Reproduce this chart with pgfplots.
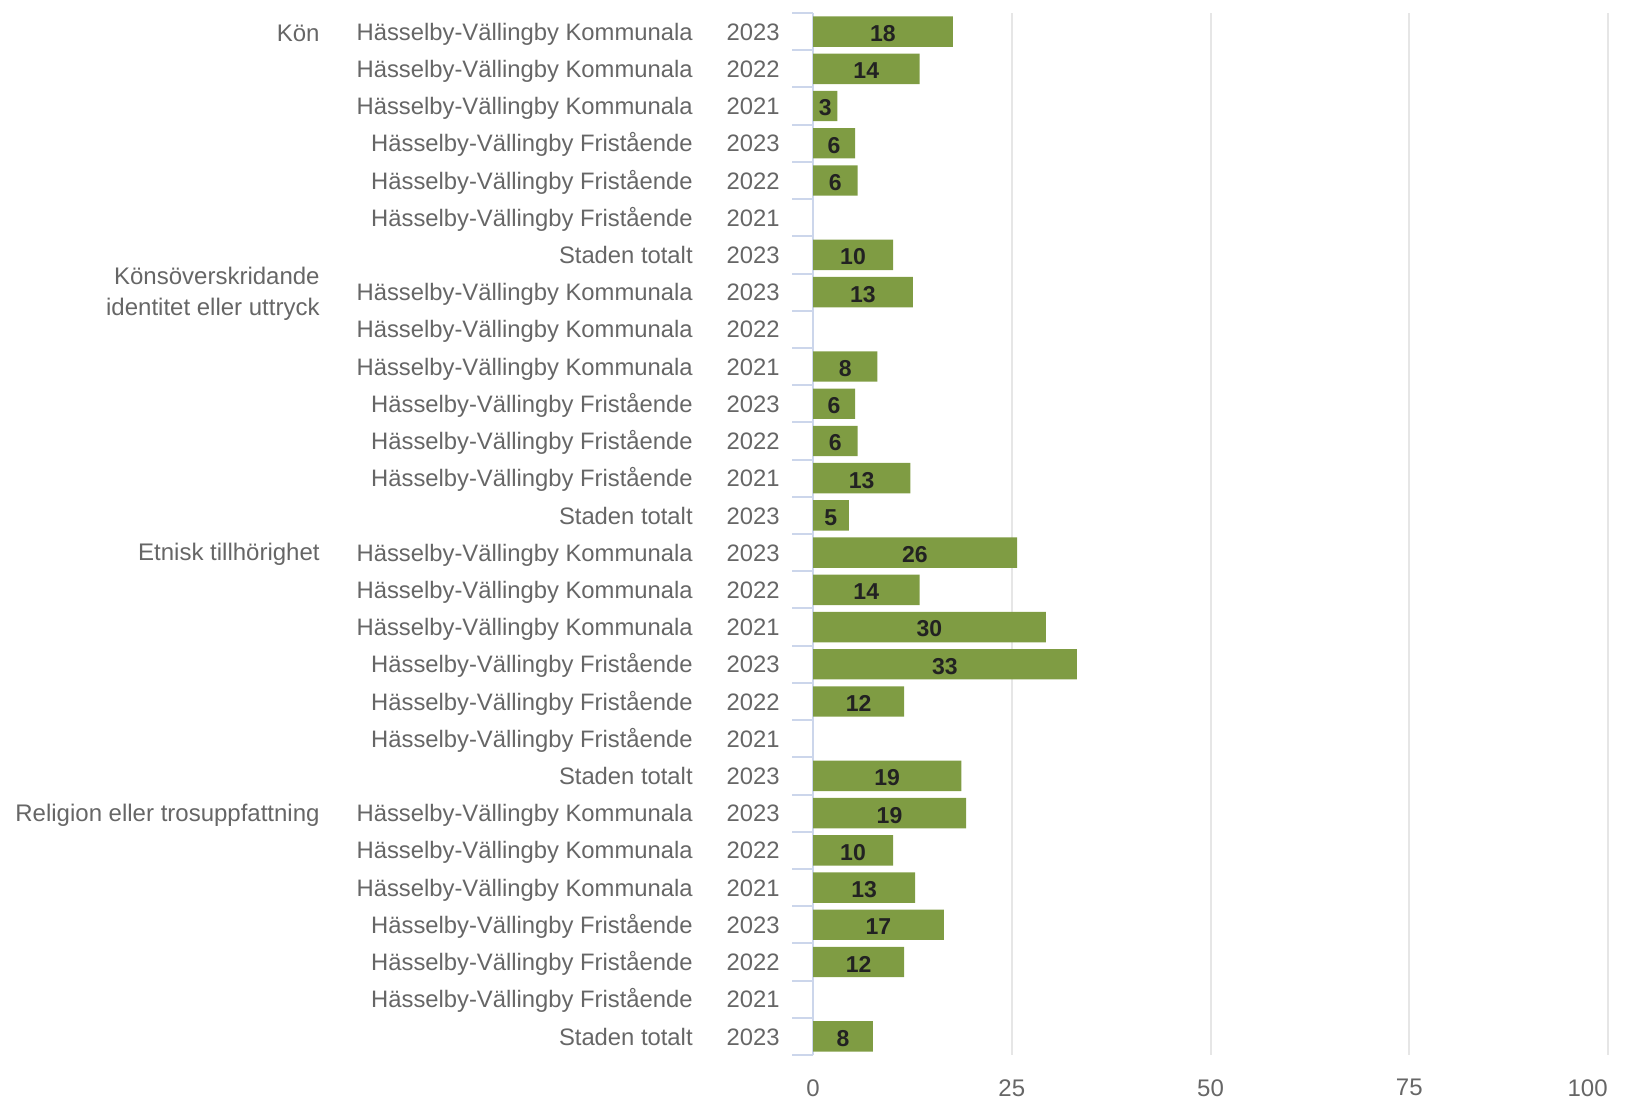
\documentclass[border=0pt]{standalone}
\usepackage{fontspec}
\setmainfont{Liberation Sans}
\usepackage{pgfplots}
\pgfplotsset{compat=1.18}
\usepackage{pgfplotstable}

\definecolor{barcol}{HTML}{7F9C43}
\definecolor{labgray}{HTML}{666666}
\definecolor{axisblue}{HTML}{CCD6EB}
\definecolor{gridgray}{HTML}{E6E6E6}
\definecolor{valcol}{HTML}{222222}

\newcommand{\K}{Hässelby-Vällingby Kommunala}
\newcommand{\F}{Hässelby-Vällingby Fristående}
\newcommand{\St}{Staden totalt}
\newcommand{\yl}[2]{#1\hspace{17pt}#2}

% row, bar length, label
\pgfplotstableread{
row v lab
0 17.6 18
1 13.4 14
2 3.07 3
3 5.3 6
4 5.6 6
6 10.07 10
7 12.55 13
9 8.09 8
10 5.3 6
11 5.6 6
12 12.26 13
13 4.5 5
14 25.66 26
15 13.4 14
16 29.3 30
17 33.2 33
18 11.46 12
20 18.66 19
21 19.25 19
22 10.07 10
23 12.85 13
24 16.47 17
25 11.46 12
27 7.54 8
}\bars

\begin{document}
\begin{tikzpicture}
\path[use as bounding box] (0,0) rectangle (813pt,549pt);
\begin{axis}[
    at={(406.5pt,21.5pt)}, anchor=south west,
    scale only axis,
    width=397.5pt, height=521pt,
    xmin=0, xmax=100,
    ymin=-0.5, ymax=27.5,
    y dir=reverse,
    axis y line*=left,
    axis x line*=bottom,
    x axis line style={draw=none},
    y axis line style={draw=axisblue, line width=1pt},
    xtick={0,25,50,75},
    extra x ticks={100},
    extra x tick style={grid=major, xticklabel style={anchor=north east}},
    xmajorgrids,
    grid style={draw=gridgray, line width=1pt},
    xtick style={draw=none},
    major tick length=0pt,
    ytick={0,...,27},
    minor ytick={-0.5,0.5,...,27.5},
    minor tick length=10.5pt,
    tick align=outside,
    minor y tick style={draw=axisblue, line width=1pt},
    /pgf/number format/assume math mode=true,
    xticklabel style={font=\fontsize{12}{14}\selectfont, text=labgray, inner sep=0pt, anchor=north, yshift=-12pt},
    yticklabel style={font=\fontsize{11.9}{14}\selectfont, text=labgray, inner sep=0pt, anchor=east, xshift=-16.5pt, text height=8.6pt, text depth=0pt},
    yticklabels={
      \yl{\K}{2023}, \yl{\K}{2022}, \yl{\K}{2021},
      \yl{\F}{2023}, \yl{\F}{2022}, \yl{\F}{2021},
      \yl{\St}{2023},
      \yl{\K}{2023}, \yl{\K}{2022}, \yl{\K}{2021},
      \yl{\F}{2023}, \yl{\F}{2022}, \yl{\F}{2021},
      \yl{\St}{2023},
      \yl{\K}{2023}, \yl{\K}{2022}, \yl{\K}{2021},
      \yl{\F}{2023}, \yl{\F}{2022}, \yl{\F}{2021},
      \yl{\St}{2023},
      \yl{\K}{2023}, \yl{\K}{2022}, \yl{\K}{2021},
      \yl{\F}{2023}, \yl{\F}{2022}, \yl{\F}{2021},
      \yl{\St}{2023}},
    clip=false,
]
\addplot[xbar, bar width=15.2pt, bar shift=0pt, fill=barcol, draw=none]
    table[x=v, y=row] {\bars};
\addplot[only marks, mark=none, nodes near coords, point meta=explicit symbolic,
    nodes near coords style={anchor=center, yshift=-1pt, font=\fontsize{11.5}{13}\selectfont\bfseries, text=valcol}]
    table[x expr=\thisrow{v}/2, y=row, meta=lab] {\bars};

\begin{scope}[every node/.style={anchor=east, inner sep=0pt, text=labgray, align=right,
    font=\fontsize{12}{15.5}\selectfont, xshift=-246.5pt, yshift=-1pt}]
\node at (axis cs:0,0) {Kön};
\node at (axis cs:0,7) {Könsöverskridande\\identitet eller uttryck};
\node at (axis cs:0,14) {Etnisk tillhörighet};
\node at (axis cs:0,21) {Religion eller trosuppfattning};
\end{scope}
\end{axis}
\end{tikzpicture}
\end{document}
